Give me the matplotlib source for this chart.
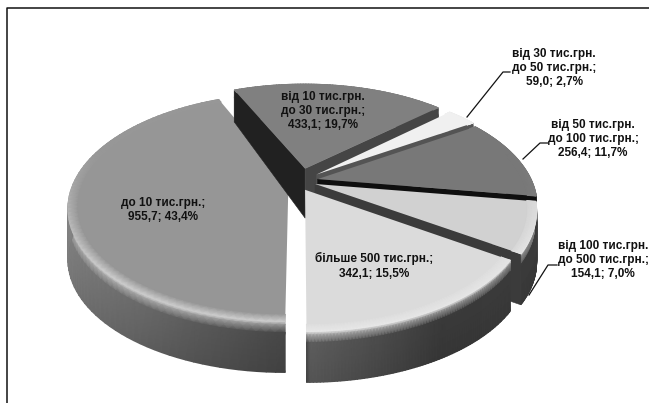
import numpy as np
import matplotlib
matplotlib.use('Agg')
import matplotlib.pyplot as plt

# Amounts by size group, clockwise from the bottom of the pie
names = ['до 10 тис.грн.;', 'від 10 тис.грн.\nдо 30 тис.грн.;', 'від 30 тис.грн.\nдо 50 тис.грн.;',
         'від 50 тис.грн.\nдо 100 тис.грн.;', 'від 100 тис.грн.\nдо 500 тис.грн.;', 'більше 500 тис.грн.;']
values = [955.7, 433.1, 59.0, 256.4, 154.1, 342.1]
shares = [43.4, 19.7, 2.7, 11.7, 7.0, 15.5]

# Grey levels per slice: top face, wall on the start edge, wall on the end edge
face_grey = [0.59, 0.50, 0.94, 0.47, 0.82, 0.86]
start_wall = [0.30, 0.13, 0.30, 0.30, 0.30, 0.30]
end_wall = [0.30, 0.27, 0.33, 0.06, 0.23, 0.25]
highlight = [0.22, 0.05, 0.0, 0.05, 0.12, 0.05]
explode = [0.055, 0.12, 0.10, 0.085, 0.075, 0.05]
shift_y = [0, 0, 0, 0, 0, 4]

# Pie geometry in pixels
cx, cy = 300, 181
rx, ry = 214, 108
persp = 0.22


def project(x, y, f=0.0):
    # f is the fraction of the wall height below the top face
    s = 1 / (1 + persp * y)
    wall = np.clip(51 - 23 * (y - 0.05), 32, 51)
    return cx + rx * x * s, cy - ry * y * s + f * wall


def rim_grey(a):
    # shading of the outer wall by compass angle
    knots = [90, 150, 179.9, 180.0, 215, 245, 275, 340]
    greys = [0.25, 0.23, 0.37, 0.28, 0.42, 0.50, 0.56, 0.45]
    return np.interp(a, knots, greys)


fig = plt.figure(figsize=(6.49, 4.03), dpi=100)
ax = fig.add_axes([0, 0, 1, 1])
ax.set_xlim(0, 649)
ax.set_ylim(403, 0)
ax.axis('off')

ax.plot([7, 7, 649], [403, 7.5, 7.5], color='#111111', lw=1.1, zorder=1)

total = sum(values)
edges = 180 + np.cumsum([0] + values) / total * 360

# Slices are painted from the back of the pie to the front
z = 2
for i in range(len(values)):
    a0, a1 = edges[i], edges[i + 1]
    mid = np.radians((a0 + a1) / 2)
    ox, oy = explode[i] * np.sin(mid), explode[i] * np.cos(mid)
    dy = shift_y[i]
    ang = np.linspace(a0, a1, 80)
    t = np.radians(ang)
    arc_x = ox + np.sin(t)
    arc_y = oy + np.cos(t)

    # the bright edge is strongest along the front of the slice
    light = np.clip(face_grey[i] + highlight[i] * np.clip(0.3 - np.cos(t), 0, 1), 0, 1)

    # outer wall with a soft bevel along its upper edge
    fracs = np.array([0, 0.06, 0.22, 1.0])
    rim_x, rim_y = [], []
    for f in fracs:
        px, py = project(arc_x, arc_y, f)
        rim_x.append(px)
        rim_y.append(py + dy)
    base = rim_grey(ang % 360)
    rim_c = np.vstack([light, light * 0.6 + base * 0.4, base, base * 0.9])
    ax.pcolormesh(np.array(rim_x), np.array(rim_y), rim_c, shading='gouraud',
                  cmap='gray', vmin=0, vmax=1, zorder=z)
    z += 1

    # side walls, only those turned towards the viewer
    for k, grey, normal in [(0, start_wall[i], a0 - 90), (-1, end_wall[i], a1 + 90)]:
        if np.cos(np.radians(normal)) > -0.01:
            continue
        wx = np.array([ox, arc_x[k]])
        wy = np.array([oy, arc_y[k]])
        tx, ty = project(wx, wy)
        bx, by = project(wx, wy, 1.0)
        ax.fill([tx[0], tx[1], bx[1], bx[0]], [ty[0] + dy, ty[1] + dy, by[1] + dy, by[0] + dy],
                color=str(grey), lw=0.4, zorder=z)
        z += 1

    # top face
    px, py = project(arc_x, arc_y)
    ax0, ay0 = project(ox, oy)
    ax.fill(np.r_[ax0, px], np.r_[ay0, py] + dy, color=str(face_grey[i]), lw=0, zorder=z)
    z += 1

    # lighter ring where the face meets the bevel
    ring_x, ring_y, ring_c = [], [], []
    for r, g in [(0.96, np.full_like(t, face_grey[i])), (1.0, light)]:
        qx, qy = project(ox + r * np.sin(t), oy + r * np.cos(t))
        ring_x.append(qx)
        ring_y.append(qy + dy)
        ring_c.append(g)
    ax.pcolormesh(np.array(ring_x), np.array(ring_y), np.array(ring_c), shading='gouraud',
                  cmap='gray', vmin=0, vmax=1, zorder=z)
    z += 1

# Leader lines to the labels outside the pie
for lx, ly in [([467, 503, 510], [117, 72, 72]),
               ([523, 540, 548], [159, 143, 143]),
               ([529, 548, 557], [295, 265, 265])]:
    ax.plot(lx, ly, color='#111111', lw=0.9, zorder=z)

label_pos = [(163, 210), (323, 111), (554, 68), (593, 139), (603, 260), (374, 266)]
for name, val, share, (lx, ly) in zip(names, values, shares, label_pos):
    num = f'{val:.1f}'.replace('.', ',')
    pct = f'{share:.1f}'.replace('.', ',')
    ax.text(lx, ly, f'{name}\n{num}; {pct}%', ha='center', va='center', fontsize=8.5,
            fontweight='bold', family='Liberation Sans', color='#111111',
            linespacing=1.27, zorder=z + 1)

fig.savefig('out.png', dpi=100)
